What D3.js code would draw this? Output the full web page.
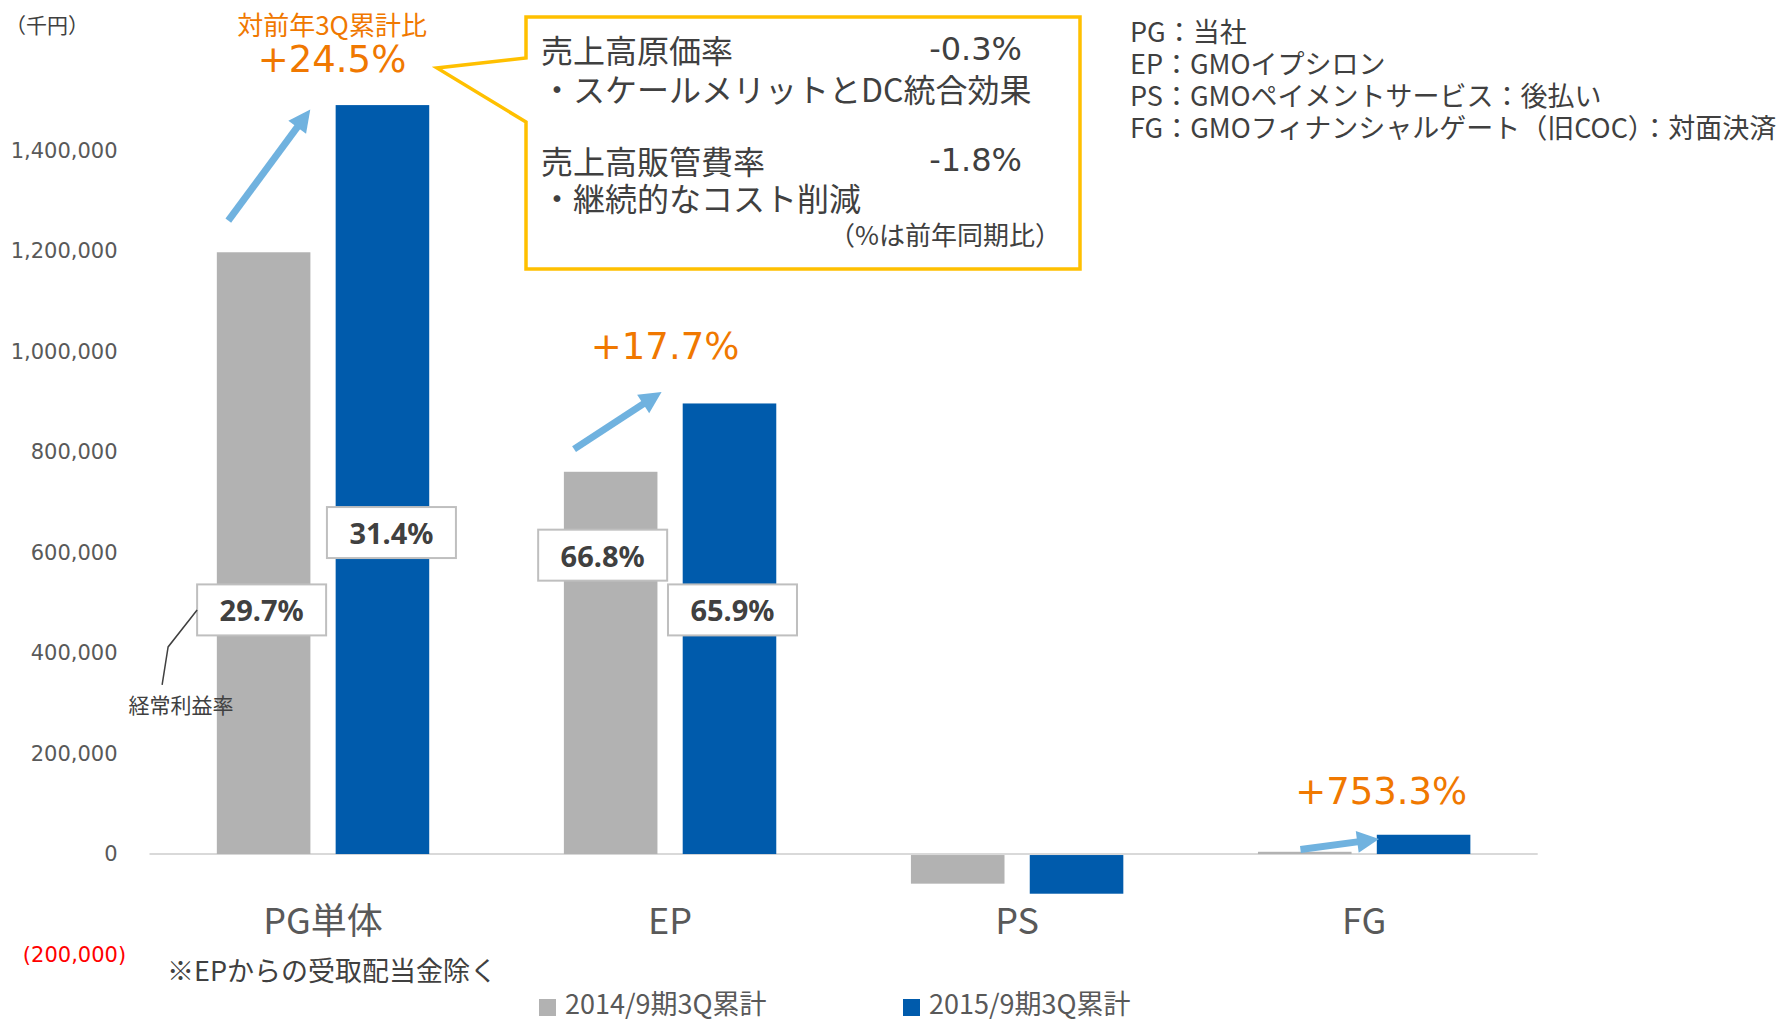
<!DOCTYPE html>
<html><head><meta charset="utf-8">
<script src="https://cdn.jsdelivr.net/npm/d3@7"></script>
<style>
html,body{margin:0;padding:0;background:#fff;}
svg{display:block;}
</style></head>
<body>
<svg id="chart" width="1790" height="1020"></svg>
<script>
// ---- data ----
const categories = ["PG単体", "EP", "PS", "FG"];
const seriesNames = ["2014/9期3Q累計", "2015/9期3Q累計"];
const values2014 = [1198000, 761000, -57000, 4500];
const values2015 = [1491000, 897000, -77000, 38400];
const growthLabels = ["+24.5%", "+17.7%", null, "+753.3%"];
const margin2014 = ["29.7%", "66.8%", null, null];
const margin2015 = ["31.4%", "65.9%", null, null];
const yTickValues = [-200000, 0, 200000, 400000, 600000, 800000, 1000000, 1200000, 1400000];
const companyNotes = ["PG：当社", "EP：GMOイプシロン", "PS：GMOペイメントサービス：後払い", "FG：GMOフィナンシャルゲート（旧COC）：対面決済"];
const calloutLines = [
  {label: "売上高原価率", value: "-0.3%"},
  {label: "・スケールメリットとDC統合効果", value: null},
  {label: "売上高販管費率", value: "-1.8%"},
  {label: "・継続的なコスト削減", value: null}
];

// ---- layout / style ----
const COL_GRAY = "#b2b2b2", COL_BLUE = "#005bac", COL_ORANGE = "#f07800", COL_ARROW = "#70b2df";
const TXT = "#404040", AX = "#595959";
const MEIRYO = "'DejaVu Sans','Noto Sans CJK JP',sans-serif";
const CJK = "'Noto Sans CJK JP','Noto Sans',sans-serif";
const seriesColors = [COL_GRAY, COL_BLUE];

const svg = d3.select("#chart");
const y = d3.scaleLinear().domain([-200000, 1400000]).range([954.5, 150.8]);
const x0 = d3.scaleBand().domain(categories).range([149.5, 1537.7]).paddingInner(0.388).paddingOuter(0.194);
const x1 = d3.scaleBand().domain(seriesNames).range([0, x0.bandwidth()]).paddingInner(0.2125).paddingOuter(0);

const rows = categories.map((c, i) => ({cat: c, vals: [values2014[i], values2015[i]]}));

// zero line
svg.append("line")
  .attr("x1", x0.range()[0]).attr("x2", x0.range()[1])
  .attr("y1", y(0)).attr("y2", y(0))
  .attr("stroke", "#d9d9d9").attr("stroke-width", 2);

// bars
const g = svg.append("g");
rows.forEach(r => {
  r.vals.forEach((v, j) => {
    g.append("rect")
      .attr("x", x0(r.cat) + x1(seriesNames[j]))
      .attr("width", x1.bandwidth())
      .attr("y", v >= 0 ? y(v) : y(0) + 1)
      .attr("height", Math.abs(y(v) - y(0)))
      .attr("fill", seriesColors[j]);
  });
});

// y axis
const fmt = d3.format(",");
const yAxis = d3.axisLeft(y).tickValues(yTickValues).tickSize(0)
  .tickFormat(v => v < 0 ? "(" + fmt(-v) + ")" : fmt(v));
const ya = svg.append("g").attr("transform", "translate(117.6,0)").call(yAxis);
ya.select(".domain").remove();
ya.selectAll("text")
  .attr("x", 0)
  .attr("dx", d => d < 0 ? 8.5 : 0)
  .attr("font-family", MEIRYO).attr("font-size", 21)
  .attr("fill", d => d < 0 ? "#ff0000" : AX);

// unit label
svg.append("text").attr("x", 5).attr("y", 24).attr("dominant-baseline", "central")
  .attr("font-family", CJK).attr("font-size", 21).attr("fill", TXT).text("（千円）");

// category labels
svg.selectAll(".cat").data(categories).enter().append("text")
  .attr("x", d => x0(d) + x0.bandwidth() / 2)
  .attr("y", 918).attr("text-anchor", "middle").attr("dominant-baseline", "central")
  .attr("font-family", CJK).attr("font-size", 36).attr("fill", AX)
  .text(d => d);

svg.append("text").attr("x", 167).attr("y", 969).attr("dominant-baseline", "central")
  .attr("font-family", CJK).attr("font-size", 27).attr("fill", TXT).text("※EPからの受取配当金除く");

// legend
const legendX = [539, 903];
seriesNames.forEach((s, j) => {
  svg.append("rect").attr("x", legendX[j]).attr("y", 999).attr("width", 17).attr("height", 17).attr("fill", seriesColors[j]);
  svg.append("text").attr("x", legendX[j] + 26).attr("y", 1002).attr("dominant-baseline", "central")
    .attr("font-family", CJK).attr("font-size", 27).attr("fill", AX).text(s);
});

// growth arrows (anchored on group fraction / value)
const arrowSpecs = [
  {cat: "PG単体", f0: 0.054, v0: 1261000, f1: 0.44, v1: 1482000},
  {cat: "EP", f0: 0.048, v0: 806000, f1: 0.46, v1: 920000},
  {cat: "FG", f0: 0.20, v0: 9000, f1: 0.57, v1: 30000}
];
function drawArrow(xa, ya_, xb, yb) {
  const dx = xb - xa, dy = yb - ya_, L = Math.hypot(dx, dy);
  const ux = dx / L, uy = dy / L, px = -uy, py = ux;
  const hl = 22, hw = 11;
  const bx = xb - ux * hl, by = yb - uy * hl;
  svg.append("line").attr("x1", xa).attr("y1", ya_).attr("x2", bx + ux * 2).attr("y2", by + uy * 2)
    .attr("stroke", COL_ARROW).attr("stroke-width", 7);
  svg.append("path")
    .attr("d", `M${xb},${yb}L${bx + px * hw},${by + py * hw}L${bx - px * hw},${by - py * hw}Z`)
    .attr("fill", COL_ARROW);
}
arrowSpecs.forEach(a => {
  const gx = x0(a.cat), bw = x0.bandwidth();
  drawArrow(gx + a.f0 * bw, y(a.v0), gx + a.f1 * bw, y(a.v1));
});

// growth labels
const growthOffsets = [{dx: 9, dy: -46}, {dx: -5, dy: -57}, null, {dx: 17, dy: -43.5}];
categories.forEach((c, i) => {
  if (!growthLabels[i]) return;
  const o = growthOffsets[i];
  svg.append("text")
    .attr("x", x0(c) + x0.bandwidth() / 2 + o.dx)
    .attr("y", y(values2015[i]) + o.dy)
    .attr("text-anchor", "middle").attr("dominant-baseline", "central")
    .attr("font-family", MEIRYO).attr("font-size", 37).attr("fill", COL_ORANGE)
    .text(growthLabels[i]);
});
svg.append("text")
  .attr("x", x0("PG単体") + x0.bandwidth() / 2 + 9).attr("y", 23)
  .attr("text-anchor", "middle").attr("dominant-baseline", "central")
  .attr("font-family", CJK).attr("font-size", 26).attr("fill", COL_ORANGE).text("対前年3Q累計比");

// margin labels (boxes)
const boxW = 129, boxH = 51;
const boxSpecs = [];
categories.forEach((c, i) => {
  if (margin2014[i]) boxSpecs.push({cat: c, s: 0, txt: margin2014[i]});
  if (margin2015[i]) boxSpecs.push({cat: c, s: 1, txt: margin2015[i]});
});
const boxPos = {"PG単体-0": {dx: -2, v: 486000}, "PG単体-1": {dx: 9, v: 640000}, "EP-0": {dx: -8, v: 595000}, "EP-1": {dx: 3, v: 486000}};
const boxCenters = {};
boxSpecs.forEach(b => {
  const p = boxPos[b.cat + "-" + b.s];
  const cx = x0(b.cat) + x1(seriesNames[b.s]) + x1.bandwidth() / 2 + p.dx;
  const cy = y(p.v);
  boxCenters[b.cat + "-" + b.s] = [cx, cy];
  svg.append("rect").attr("x", cx - boxW / 2).attr("y", cy - boxH / 2).attr("width", boxW).attr("height", boxH)
    .attr("fill", "#fff").attr("stroke", "#bfbfbf").attr("stroke-width", 2);
  svg.append("text").attr("x", cx).attr("y", cy).attr("text-anchor", "middle").attr("dominant-baseline", "central")
    .attr("font-family", "'Noto Sans',sans-serif").attr("font-weight", "bold").attr("font-size", 29).attr("fill", TXT)
    .text(b.txt);
});
// leader to 経常利益率
const [lcx, lcy] = boxCenters["PG単体-0"];
const lx = lcx - boxW / 2;
svg.append("path").attr("d", `M${lx},${lcy}L${lx - 29},${lcy + 37}L${lx - 35},${lcy + 75}`)
  .attr("fill", "none").attr("stroke", TXT).attr("stroke-width", 1.5);
svg.append("text").attr("x", lx - 16).attr("y", lcy + 94).attr("text-anchor", "middle").attr("dominant-baseline", "central")
  .attr("font-family", CJK).attr("font-size", 21).attr("fill", TXT).text("経常利益率");

// callout
const cb = {x: 526, y: 17, w: 554, h: 252, tipX: 437, tipY: 68, j1: 58, j2: 122};
svg.append("path")
  .attr("d", `M${cb.x},${cb.y}H${cb.x + cb.w}V${cb.y + cb.h}H${cb.x}V${cb.j2}L${cb.tipX},${cb.tipY}L${cb.x},${cb.j1}Z`)
  .attr("fill", "#fff").attr("stroke", "#ffc000").attr("stroke-width", 3.5).attr("stroke-linejoin", "miter");
const lineYs = [49, 88, 160, 197];
calloutLines.forEach((l, i) => {
  svg.append("text").attr("x", 541).attr("y", lineYs[i]).attr("dominant-baseline", "central")
    .attr("font-family", CJK).attr("font-size", 32).attr("fill", TXT).text(l.label);
  if (l.value) svg.append("text").attr("x", 1022).attr("y", lineYs[i]).attr("text-anchor", "end").attr("dominant-baseline", "central")
    .attr("font-family", MEIRYO).attr("font-size", 32).attr("fill", TXT).text(l.value);
});
svg.append("text").attr("x", 829).attr("y", 233).attr("dominant-baseline", "central")
  .attr("font-family", CJK).attr("font-size", 26).attr("fill", TXT).text("（%は前年同期比）");

// company notes
companyNotes.forEach((t, i) => {
  svg.append("text").attr("x", 1130).attr("y", 30 + i * 32).attr("dominant-baseline", "central")
    .attr("font-family", CJK).attr("font-size", 27).attr("fill", TXT).text(t);
});
</script>
</body></html>
